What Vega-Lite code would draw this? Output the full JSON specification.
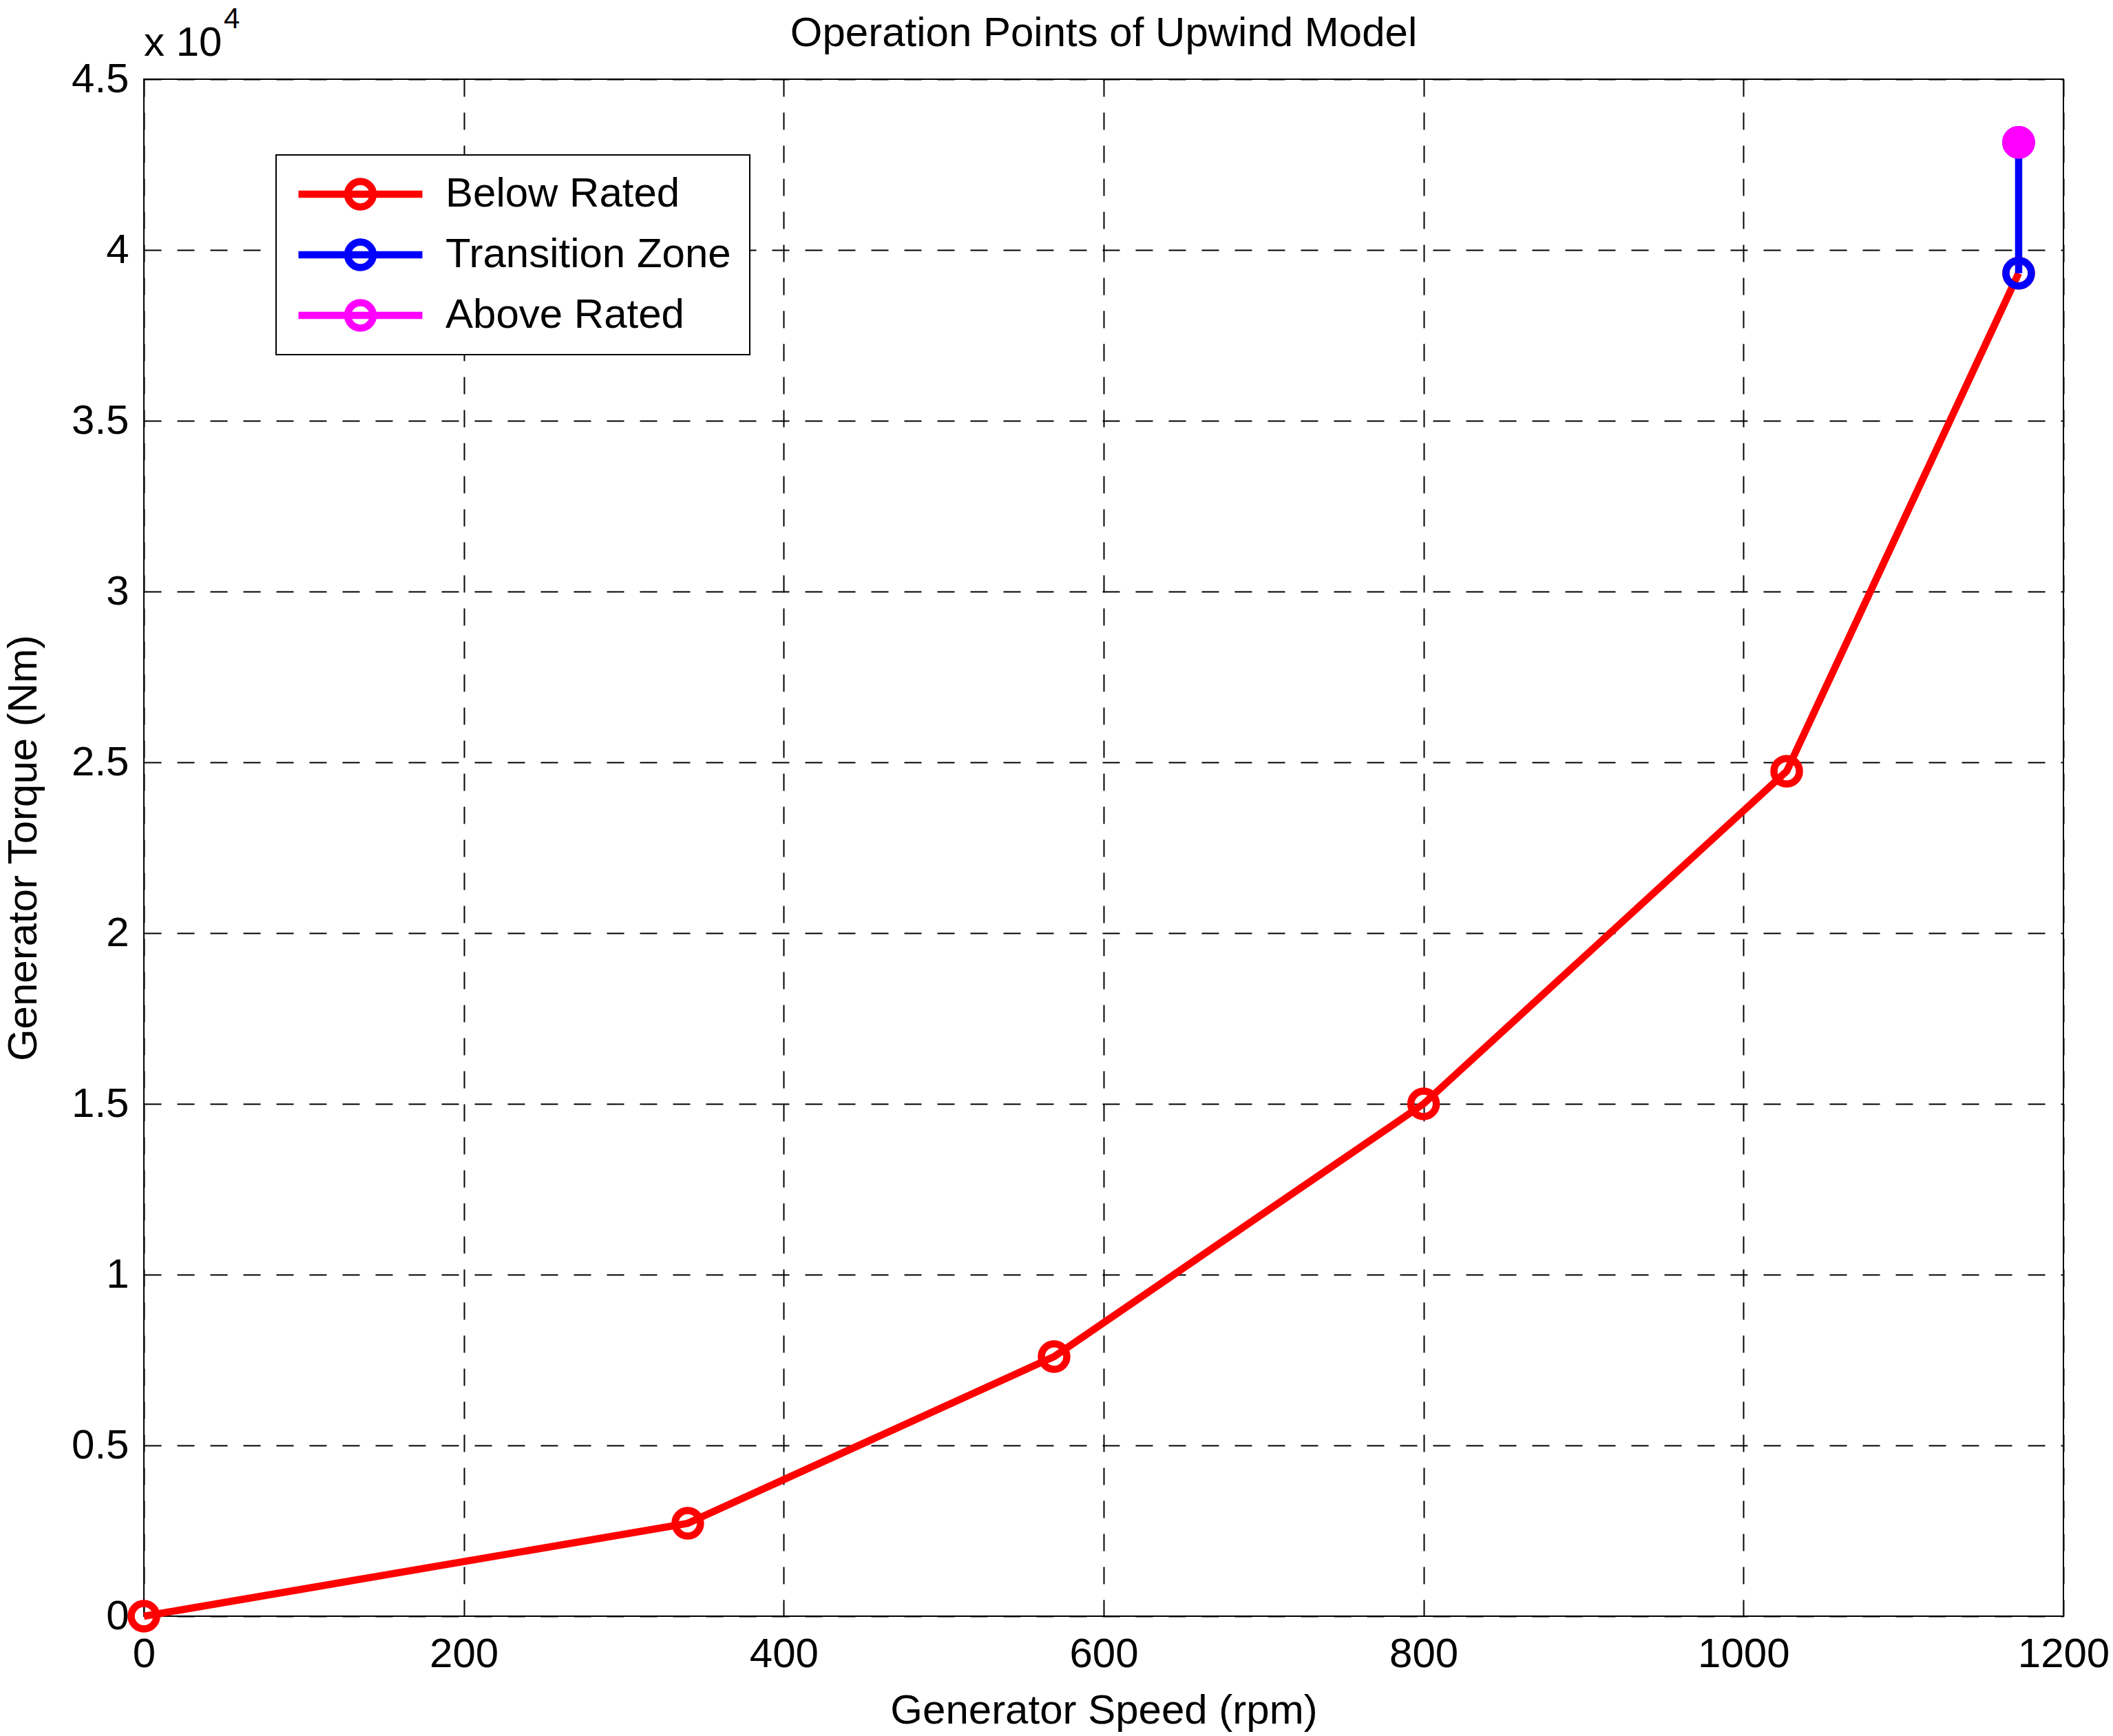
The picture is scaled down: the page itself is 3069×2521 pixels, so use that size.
{
  "$schema": "https://vega.github.io/schema/vega-lite/v6.json",
  "width": 2788,
  "height": 2232,
  "autosize": {"type": "none"},
  "padding": {"left": 209, "top": 115, "right": 72, "bottom": 174},
  "background": "white",
  "config": {
    "view": {"stroke": "black", "strokeWidth": 2},
    "font": "Liberation Sans"
  },
  "title": {
    "text": "Operation Points of Upwind Model",
    "fontSize": 60,
    "font": "Liberation Sans",
    "fontWeight": "normal",
    "color": "black",
    "frame": "group",
    "anchor": "middle",
    "baseline": "alphabetic",
    "offset": -120
  },
  "data": {
    "values": [
      {"series": "Below Rated", "speed": 0, "torque": 0},
      {"series": "Below Rated", "speed": 340, "torque": 2720},
      {"series": "Below Rated", "speed": 569, "torque": 7600},
      {"series": "Below Rated", "speed": 800, "torque": 15000},
      {"series": "Below Rated", "speed": 1027, "torque": 24740},
      {"series": "Below Rated", "speed": 1172, "torque": 39320},
      {"series": "Transition Zone", "speed": 1172, "torque": 39320},
      {"series": "Transition Zone", "speed": 1172, "torque": 43150},
      {"series": "Above Rated", "speed": 1172, "torque": 43150}
    ]
  },
  "layer": [
    {
      "mark": {"type": "line", "strokeWidth": 10.5, "clip": false},
      "encoding": {
        "x": {
          "field": "speed", "type": "quantitative",
          "scale": {"domain": [0, 1200], "nice": false, "zero": false},
          "axis": {
            "values": [0, 200, 400, 600, 800, 1000, 1200],
            "format": "d",
            "labelFontSize": 60, "labelFont": "Liberation Sans", "labelColor": "black",
            "labelPadding": 26, "labelFlush": false, "labelOverlap": false,
            "ticks": false, "domain": false,
            "grid": true, "gridColor": "black", "gridDash": [25, 23], "gridWidth": 2, "gridOpacity": 1,
            "title": "Generator Speed (rpm)", "titleFontSize": 60, "titleFont": "Liberation Sans",
            "titleFontWeight": "normal", "titleColor": "black", "titlePadding": 23
          }
        },
        "y": {
          "field": "torque", "type": "quantitative",
          "scale": {"domain": [0, 45000], "nice": false, "zero": false},
          "axis": {
            "values": [0, 5000, 10000, 15000, 20000, 25000, 30000, 35000, 40000, 45000],
            "labelExpr": "datum.value / 10000",
            "labelFontSize": 60, "labelFont": "Liberation Sans", "labelColor": "black",
            "labelPadding": 22, "labelFlush": false, "labelOverlap": false,
            "ticks": false, "domain": false,
            "grid": true, "gridColor": "black", "gridDash": [25, 23], "gridWidth": 2, "gridOpacity": 1,
            "title": "Generator Torque (Nm)", "titleFontSize": 60, "titleFont": "Liberation Sans",
            "titleFontWeight": "normal", "titleColor": "black", "titlePadding": 38
          }
        },
        "color": {
          "field": "series", "type": "nominal",
          "scale": {"domain": ["Below Rated", "Transition Zone", "Above Rated"], "range": ["#ff0000", "#0000ff", "#ff00ff"]},
          "legend": {
            "orient": "none", "legendX": 192, "legendY": 110,
            "title": null,
            "fillColor": "white", "strokeColor": "black",
            "padding": 27,
            "symbolType": "M-1,0L1,0M0.2055,0A0.2055,0.2055,0,1,1,-0.2055,0A0.2055,0.2055,0,1,1,0.2055,0",
            "symbolSize": 32400, "symbolStrokeWidth": 10.5,
            "clipHeight": 60,
            "labelFontSize": 60, "labelFont": "Liberation Sans", "labelColor": "black",
            "labelOffset": 28, "labelLimit": 1000, "rowPadding": 28,
            "encode": {"legend": {"update": {"strokeWidth": {"value": 2}}}}
          }
        }
      }
    },
    {
      "mark": {"type": "point", "filled": false, "strokeWidth": 10.5, "size": 1369, "opacity": 1, "clip": false},
      "encoding": {
        "x": {"field": "speed", "type": "quantitative"},
        "y": {"field": "torque", "type": "quantitative"},
        "color": {"field": "series", "type": "nominal", "legend": null}
      }
    },
    {
      "transform": [{"filter": "datum.series === 'Above Rated'"}],
      "mark": {"type": "point", "filled": true, "fill": "#ff00ff", "stroke": "#ff00ff", "strokeWidth": 10.5, "size": 1369, "opacity": 1, "clip": false},
      "encoding": {
        "x": {"field": "speed", "type": "quantitative"},
        "y": {"field": "torque", "type": "quantitative"}
      }
    },
    {
      "data": {"values": [{}]},
      "mark": {"type": "text", "text": "x 10", "fontSize": 60, "font": "Liberation Sans", "align": "left", "baseline": "alphabetic", "dy": -34, "color": "black"},
      "encoding": {
        "x": {"datum": 0, "type": "quantitative"},
        "y": {"datum": 45000, "type": "quantitative"}
      }
    },
    {
      "data": {"values": [{}]},
      "mark": {"type": "text", "text": "4", "fontSize": 42, "font": "Liberation Sans", "align": "left", "baseline": "alphabetic", "dx": 116, "dy": -74, "color": "black"},
      "encoding": {
        "x": {"datum": 0, "type": "quantitative"},
        "y": {"datum": 45000, "type": "quantitative"}
      }
    }
  ]
}
